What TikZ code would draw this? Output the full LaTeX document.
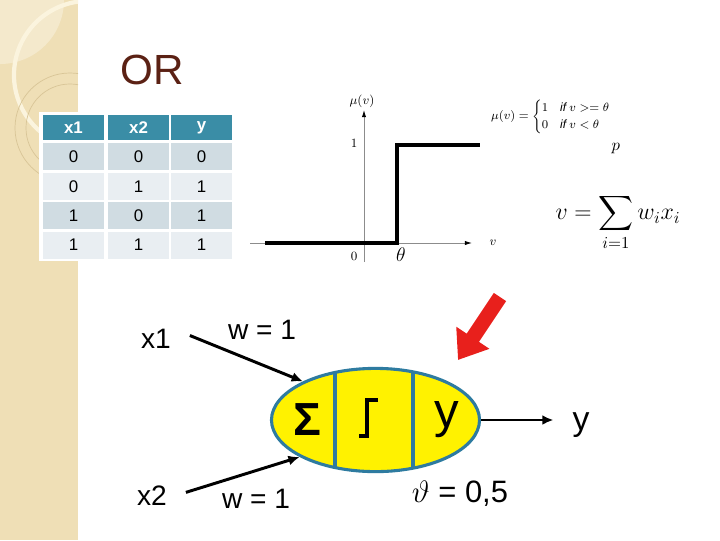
\RequirePackage{fix-cm}
\documentclass[tikz,border=0pt]{standalone}
\usepackage{amsmath}
\usepackage{fontspec}
\setmainfont{Liberation Sans}
\usetikzlibrary{arrows.meta,positioning,shapes.geometric}
\definecolor{parch}{HTML}{EFDFB6}
\definecolor{parchlt}{HTML}{F4E9CC}
\definecolor{parchln}{HTML}{D8C597}
\definecolor{parchwh}{HTML}{FBF4DE}
\definecolor{titlebrown}{HTML}{5B2114}
\definecolor{headteal}{HTML}{3A8DA6}
\definecolor{rowdark}{HTML}{D0DCE2}
\definecolor{rowlight}{HTML}{E9EEF2}
\definecolor{rimblue}{HTML}{2E7BA0}
\definecolor{alarm}{HTML}{E8201C}
\tikzset{
  hcell/.style={
    rectangle, fill=headteal, text=white, inner sep=0pt,
    minimum width=1.525cm, minimum height=0.625cm,
    font=\fontsize{12}{14}\selectfont\bfseries
  },
  bcell/.style={
    rectangle, fill=#1, inner sep=0pt,
    minimum width=1.525cm, minimum height=0.675cm,
    font=\fontsize{12}{14}\selectfont
  },
  bcell/.default=rowdark,
  axisline/.style={
    draw=black!45, line width=0.6pt,
    -{Latex[length=5pt,width=3pt,color=black]}
  },
  stepline/.style={line width=2.2pt, line join=miter},
  glabel/.style={font=\fontsize{9}{11}\selectfont, inner sep=1pt},
  neuronbody/.style={
    ellipse, draw=rimblue, fill=yellow, line width=2.2pt,
    minimum width=5.2cm, minimum height=2.58cm, inner sep=0pt
  },
  divider/.style={draw=rimblue, line width=2.2pt},
  biglabel/.style={font=\fontsize{#1}{#1}\selectfont, anchor=base},
  wire/.style={
    line width=2.1pt, -{Latex[length=8pt,width=7pt]}
  },
  pointer/.style={
    alarm, line width=10.5pt, -{Triangle[length=19pt,width=27pt]}
  }
}

\begin{document}
\begin{tikzpicture}[x=0.025cm, y=-0.025cm]
  \useasboundingbox (0,0) rectangle (720,540);
  \fill[white] (0,0) rectangle (720,540);

  % side strip
  \fill[parch] (0,0) rectangle (78,540);
  \begin{scope}
    \clip (0,0) rectangle (78,540);
    \fill[parchlt] (0,0) circle[radius=1.6cm];
    \draw[parchwh, line width=3pt] (88,75) circle[radius=1.85cm];
    \draw[parchln, line width=0.5pt] (70,128) circle[radius=1.375cm];
    \draw[parchln, line width=0.5pt] (70,128) circle[radius=1.1cm];
  \end{scope}

  % title
  \node[font=\fontsize{30}{34}\selectfont, text=titlebrown] (title) at (152,70) {OR};

  % truth table
  \fill[white] (39,112) rectangle (236,261);
  \node[hcell] (h1) at (73.5,127.5) {x1};
  \node[hcell] (h2) at (138.5,127.5) {x2};
  \node[hcell] (h3) at (201.5,127.5) {y};
  \foreach \r/\yy/\a/\b/\c/\f in {1/156.5/0/0/0/rowdark, 2/186.5/0/1/1/rowlight,
                                  3/215.5/1/0/1/rowdark, 4/245/1/1/1/rowlight}{
    \node[bcell=\f] (c\r1) at (73.5,\yy) {\a};
    \node[bcell=\f] (c\r2) at (138.5,\yy) {\b};
    \node[bcell=\f] (c\r3) at (201.5,\yy) {\c};
  }

  % step function plot
  \draw[axisline] (250,243) -- (472,243);
  \draw[axisline] (364,262) -- (364,110);
  \draw[stepline] (265,243) -- (397,243) -- (397,145) -- (480,145);
  \node[glabel] (muv) at (362,101) {$\mu(v)$};
  \node[glabel] (one) at (354,143) {$1$};
  \node[glabel] (zero) at (354,256) {$0$};
  \node[font=\fontsize{14}{16}\selectfont] (theta) at (401,255) {$\theta$};
  \node[glabel] (vaxis) at (493,243) {$v$};

  % formulas
  \node[font=\fontsize{8.5}{10}\selectfont] (rule) at (551,117)
    {$\mu(v)=\begin{cases}1 & \mathit{if}\ v>=\theta\\ 0 & \mathit{if}\ v<\theta\end{cases}$};
  \node[font=\fontsize{17}{20}\selectfont] (vsum) at (618,196)
    {$\displaystyle v=\sum_{i=1}^{\rule[-29pt]{0pt}{29pt}p} w_i x_i$};

  % neuron
  \node[neuronbody] (neuron) at (375.5,420) {};
  \draw[divider] (335,372.6) -- (335,467.4);
  \draw[divider] (413,372) -- (413,468);
  \node[font=\fontsize{33}{36}\selectfont\bfseries] (sigma) at (307,420) {Σ};
  \draw[line width=2.8pt] (359,436) -- (367,436) -- (367,400) -- (378,400);
  \node[biglabel=35] (yin) at (447,427.5) {y};
  \node[biglabel=22] (thresh) at (460,502) {$\vartheta$ = 0,5};

  % inputs and output
  \node[biglabel=20] (x1) at (156,348) {x1};
  \node[biglabel=20] (x2) at (152,505) {x2};
  \node[biglabel=20] (w1) at (262,339) {w = 1};
  \node[biglabel=20] (w2) at (256,508) {w = 1};
  \node[biglabel=24] (yout) at (581,430) {y};
  \draw[wire] ([xshift=10pt,yshift=2pt]x1.east) -- (neuron.152);
  \draw[wire] ([xshift=10pt,yshift=2pt]x2.east) -- (neuron.206);
  \draw[wire] (neuron.east) -- ([xshift=-10pt]neuron.east -| yout.west);

  % pointer
  \coordinate (hinttail) at (500,297);
  \coordinate (hinttip) at (458,360);
  \draw[pointer] (hinttail) -- (hinttip);
\end{tikzpicture}
\end{document}
